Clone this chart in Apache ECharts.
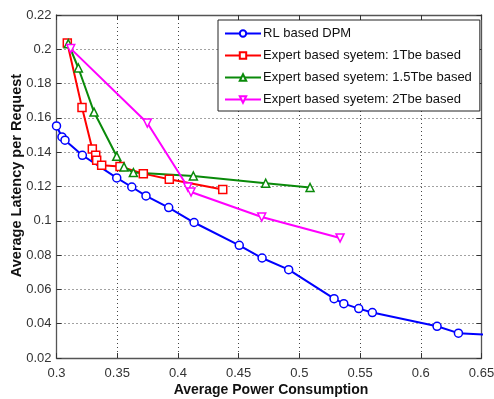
<!DOCTYPE html>
<html>
<head>
<meta charset="utf-8">
<script src="https://cdn.jsdelivr.net/npm/echarts@6/dist/echarts.min.js"></script>
<style>
  html, body { margin: 0; padding: 0; background: #fff; }
  #chart { width: 494px; height: 399px; }
</style>
</head>
<body>
<div id="chart"></div>
<script>
// values
var seriesNames = [
  "RL based DPM",
  "Expert based syetem: 1Tbe based",
  "Expert based syetem: 1.5Tbe based",
  "Expert based syetem: 2Tbe based"
];

var rlPower   = [0.300, 0.3045, 0.307, 0.3213, 0.3496, 0.362, 0.3737, 0.3924, 0.4133, 0.4505, 0.4693, 0.4912, 0.5286, 0.5366, 0.5489, 0.5601, 0.6134, 0.631, 0.66];
var rlLatency = [0.1553, 0.1489, 0.147, 0.1382, 0.125, 0.1197, 0.1145, 0.1077, 0.099, 0.0857, 0.0783, 0.0715, 0.0546, 0.0517, 0.0488, 0.0465, 0.0385, 0.0345, 0.0334];

var t1Power   = [0.3089, 0.321, 0.3295, 0.3323, 0.3331, 0.3372, 0.3523, 0.3715, 0.3929, 0.4369];
var t1Latency = [0.2037, 0.166, 0.1418, 0.1382, 0.1353, 0.1324, 0.1317, 0.1275, 0.1242, 0.1182];

var t15Power   = [0.3097, 0.318, 0.3309, 0.3496, 0.3556, 0.3633, 0.4127, 0.4723, 0.5088];
var t15Latency = [0.2033, 0.1891, 0.1634, 0.1376, 0.1314, 0.1281, 0.1261, 0.1219, 0.1194];

var t2Power   = [0.3117, 0.3748, 0.4081, 0.4108, 0.469, 0.5335];
var t2Latency = [0.2004, 0.157, 0.1197, 0.1168, 0.1022, 0.09];

var xMin = 0.3, xMax = 0.65, xStep = 0.05;
var yMin = 0.02, yMax = 0.22, yStep = 0.02;

function pairs(xs, ys) {
  return xs.map(function (x, i) { return [x, ys[i]]; });
}

var chart = echarts.init(document.getElementById("chart"));

var font = "Liberation Sans, Arial, sans-serif";
var gridLine = { show: true, lineStyle: { color: "#444", type: [1, 3], width: 1 } };
var boxLine = { show: true, onZero: false, lineStyle: { color: "#555", width: 1.3 } };
var tick = { show: true, inside: true, length: 5, lineStyle: { color: "#333" } };

function mkSeries(name, data, color, symbol, rotate) {
  return {
    name: name,
    type: "line",
    data: data,
    symbol: symbol,
    symbolSize: 8,
    symbolRotate: rotate || 0,
    showAllSymbol: true,
    clip: true,
    lineStyle: { color: color, width: 2 },
    itemStyle: { color: "#fff", borderColor: color, borderWidth: 1.5 },
    emphasis: { disabled: true },
    animation: false
  };
}

var option = {
  backgroundColor: "#fff",
  animation: false,
  grid: { left: 56.5, right: 12.5, top: 15, bottom: 41, containLabel: false, outerBoundsMode: "none" },
  legend: {
    show: true,
    orient: "vertical",
    left: 218,
    top: 20,
    width: 260,
    padding: [6, 8, 4, 6],
    itemGap: 7,
    itemWidth: 36,
    itemHeight: 8,
    backgroundColor: "#fff",
    borderColor: "#222",
    borderWidth: 1,
    textStyle: { fontFamily: font, fontSize: 13, lineHeight: 15, color: "#111", padding: [0, 0, 0, -3] },
    data: seriesNames.map(function (n) { return { name: n }; })
  },
  xAxis: [
    {
      type: "value",
      min: xMin, max: xMax, interval: xStep,
      name: "Average Power Consumption",
      nameLocation: "middle",
      nameGap: 25,
      nameMoveOverlap: false,
      nameTextStyle: { fontFamily: font, fontSize: 14, fontWeight: "bold", color: "#111", padding: [0, 0, 0, 4] },
      axisLine: boxLine,
      axisTick: tick,
      axisLabel: { fontFamily: font, fontSize: 13, color: "#333", margin: 9 },
      splitLine: gridLine
    },
    {
      type: "value",
      position: "top",
      min: xMin, max: xMax, interval: xStep,
      axisLine: boxLine,
      axisTick: tick,
      axisLabel: { show: false },
      splitLine: { show: false }
    }
  ],
  yAxis: [
    {
      type: "value",
      min: yMin, max: yMax, interval: yStep,
      name: "Average Latency per Request",
      nameLocation: "middle",
      nameGap: 32,
      nameMoveOverlap: false,
      nameRotate: 90,
      nameTextStyle: { fontFamily: font, fontSize: 14.5, fontWeight: "bold", color: "#111", padding: [0, 0, 0, 22] },
      axisLine: boxLine,
      axisTick: tick,
      axisLabel: { fontFamily: font, fontSize: 13, color: "#333", margin: 5 },
      splitLine: gridLine
    },
    {
      type: "value",
      position: "right",
      min: yMin, max: yMax, interval: yStep,
      axisLine: boxLine,
      axisTick: tick,
      axisLabel: { show: false },
      splitLine: { show: false }
    }
  ],
  series: [
    mkSeries(seriesNames[0], pairs(rlPower, rlLatency), "#0000ff", "circle"),
    mkSeries(seriesNames[1], pairs(t1Power, t1Latency), "#ff0000", "rect"),
    mkSeries(seriesNames[2], pairs(t15Power, t15Latency), "#0a8a0a", "triangle"),
    mkSeries(seriesNames[3], pairs(t2Power, t2Latency), "#ff00ff", "triangle", 180)
  ]
};

chart.setOption(option);
</script>
</body>
</html>
